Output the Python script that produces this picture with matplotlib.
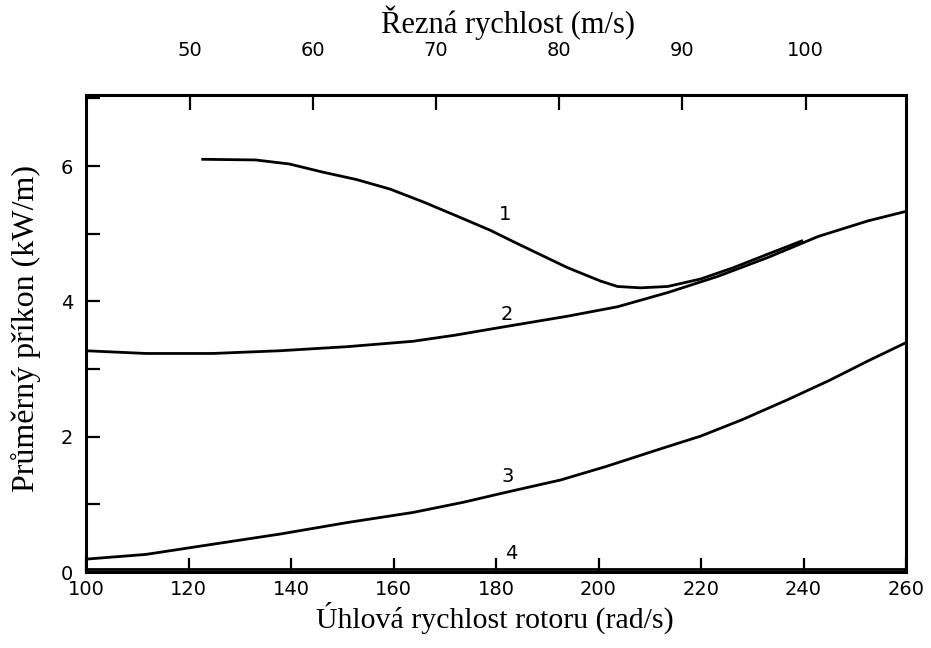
import numpy as np
import matplotlib
matplotlib.use("Agg")
import matplotlib.pyplot as plt

# Curve data (omega in rad/s, power in kW/m)
w1 = [122.5, 133.1, 139.7, 146.2, 152.8, 159.3, 165.8, 172.4, 178.9, 184.0, 187.3, 193.9,
      200.4, 203.7, 208.2, 213.5, 219.9, 226.4, 233.1, 239.9]
p1 = [6.10, 6.09, 6.03, 5.91, 5.80, 5.66, 5.47, 5.26, 5.05, 4.86, 4.74, 4.50,
      4.30, 4.22, 4.20, 4.22, 4.33, 4.50, 4.70, 4.90]

w2 = [100.0, 111.7, 124.7, 137.8, 150.9, 163.8, 172.0, 180.5, 193.9, 203.7, 213.5, 223.3,
      233.1, 242.9, 252.6, 260.0]
p2 = [3.27, 3.23, 3.23, 3.27, 3.33, 3.41, 3.50, 3.61, 3.78, 3.92, 4.13, 4.37,
      4.65, 4.96, 5.19, 5.33]

w3 = [100.0, 111.7, 124.7, 137.8, 150.9, 163.8, 173.6, 181.5, 192.6, 201.5, 212.1,
      220.0, 228.0, 237.0, 245.0, 252.6, 260.0]
p3 = [0.19, 0.26, 0.41, 0.56, 0.73, 0.88, 1.03, 1.17, 1.36, 1.56, 1.82,
      2.01, 2.25, 2.55, 2.83, 3.12, 3.39]

w4 = [100.0, 180.0, 260.0]
p4 = [0.045, 0.045, 0.045]

curve_labels = ["1", "2", "3", "4"]
label_w = [181.8, 182.2, 182.2, 183.0]
label_p = [5.29, 3.81, 1.41, 0.28]

x_ticks = [100, 120, 140, 160, 180, 200, 220, 240, 260]
top_ticks = [50, 60, 70, 80, 90, 100]
y_ticks = [0, 1, 2, 3, 4, 5, 6, 7]
y_labels = ["0", "", "2", "", "4", "", "6", ""]

r = 100 / 240.4  # m per rad, cutting speed = r * omega

fig = plt.figure(figsize=(9.31, 6.48), dpi=100)
ax = fig.add_axes([86 / 931, 1 - 572 / 648, (906 - 86) / 931, (572 - 95) / 648])

lw = 2.0
for w, p in [(w1, p1), (w2, p2), (w3, p3), (w4, p4)]:
    ax.plot(w, p, color="black", lw=lw, solid_capstyle="butt", solid_joinstyle="round")

for t, w, p in zip(curve_labels, label_w, label_p):
    ax.text(w, p, t, fontsize=14, ha="center", va="center", family="DejaVu Sans")

ax.set_xlim(100, 260)
ax.set_ylim(0, 7.05)
ax.set_xticks(x_ticks)
ax.set_yticks(y_ticks)
ax.set_yticklabels(y_labels)
for s in ax.spines.values():
    s.set_linewidth(2.2)
ax.tick_params(direction="in", length=10, width=1.6, labelsize=14, pad=6)
ax.tick_params(axis="y", pad=9)

top = ax.secondary_xaxis("top", functions=(lambda w: w * r, lambda v: v / r))
top.set_xticks(top_ticks)
top.tick_params(direction="in", length=11, width=1.6, labelsize=14, pad=25)

fig.text(508 / 931, 1 - 23 / 648, "Řezná rychlost (m/s)", ha="center", va="center",
         fontsize=22, family="Liberation Serif")
fig.text(495 / 931, 1 - 618 / 648, "Úhlová rychlost rotoru (rad/s)", ha="center", va="center",
         fontsize=21.5, family="Liberation Serif")
fig.text(26 / 931, 1 - 328 / 648, "Průměrný příkon (kW/m)", ha="center", va="center",
         fontsize=23, family="Liberation Serif", rotation=90)

fig.savefig("out.png", dpi=100)
